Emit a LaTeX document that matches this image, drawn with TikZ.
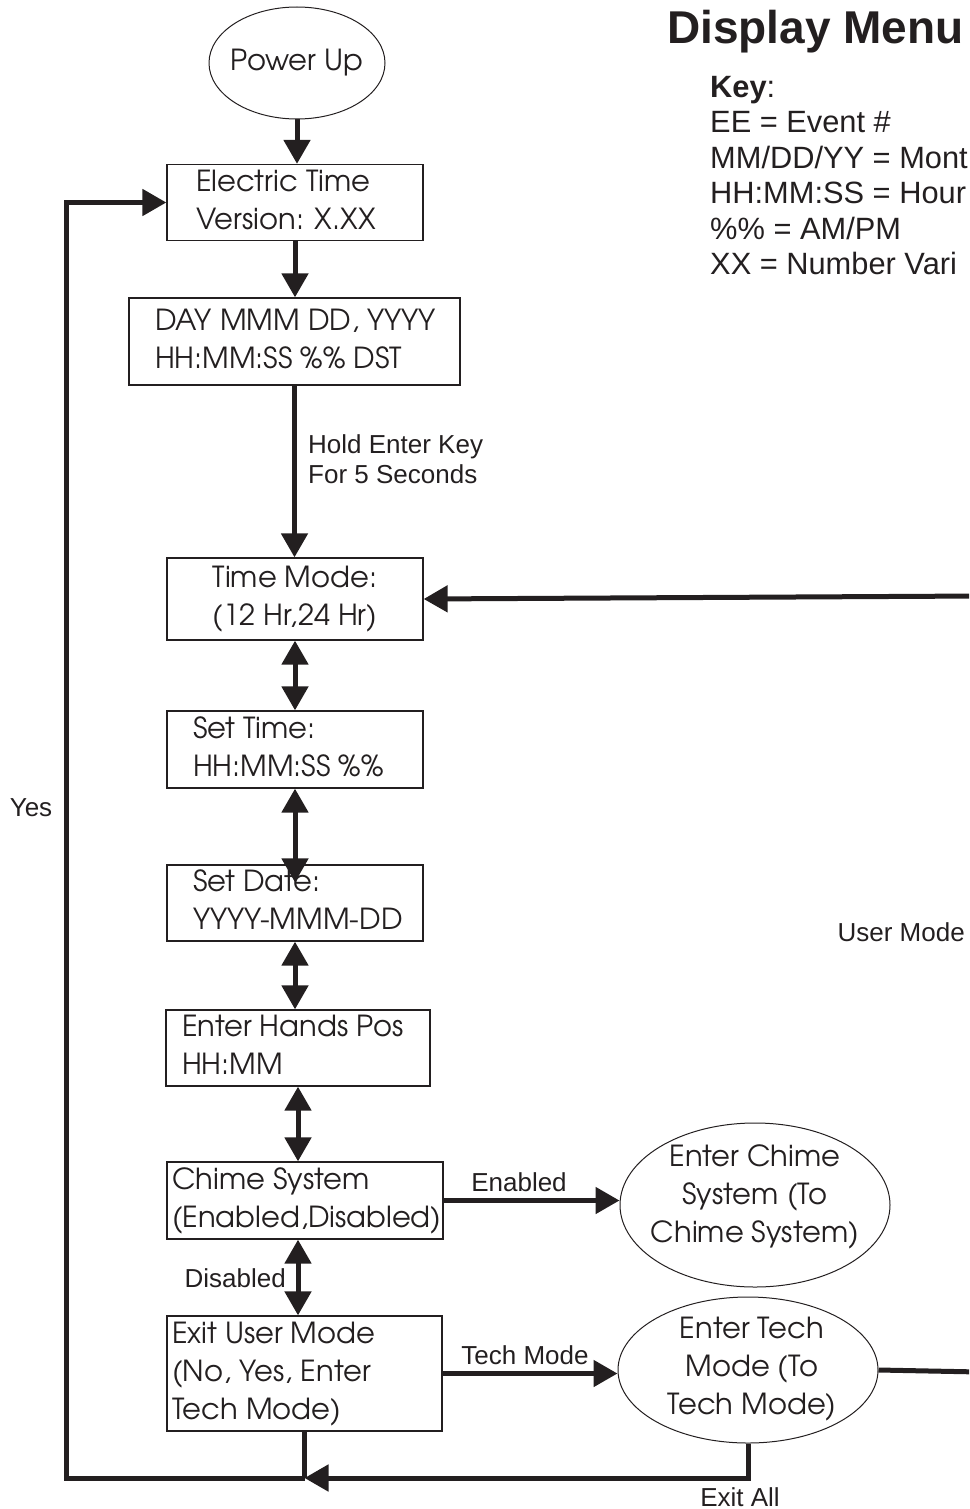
\documentclass[tikz,border=0pt]{standalone}
\usepackage{fontspec}
\setmainfont{Liberation Sans}
\newfontfamily\avant{texgyreadventor}[Extension=.otf,UprightFont=*-regular,BoldFont=*-bold]
\usetikzlibrary{arrows.meta,shapes.geometric,calc}
\definecolor{ink}{HTML}{231F20}
\newcommand\bxl[3]{\makebox[#1pt][l]{\hspace*{#2pt}\begin{tabular}{@{}l@{}}#3\end{tabular}}}
\newcommand\bxc[2]{\makebox[#1pt][c]{\begin{tabular}{@{}c@{}}#2\end{tabular}}}
\tikzset{
  box/.style={draw=ink, line width=1.3pt, rectangle, inner sep=0pt, text=ink,
              font=\avant\fontsize{29}{38}\selectfont},
  oval/.style={draw=ink, line width=1pt, ellipse, inner sep=0pt},
  ovaltext/.style={align=center, text=ink, inner sep=0pt, font=\avant\fontsize{29}{38}\selectfont},
  lbl/.style={text=ink, inner sep=0pt, font=\fontsize{26}{30}\selectfont},
  conn/.style={line width=5pt, draw=ink},
  arr/.style={conn, -{Triangle[length=24pt,width=26pt]}},
  dbl/.style={conn, {Triangle[length=24pt,width=26pt]}-{Triangle[length=24pt,width=26pt]}},
}
\begin{document}
\begin{tikzpicture}[x=1pt,y=-1pt]
\useasboundingbox (0,0) rectangle (969,1509);
\clip (0,0) rectangle (969,1509);

% title and key
\node[anchor=west, inner sep=0pt, text=ink, font=\bfseries\fontsize{46}{50}\selectfont] (title) at (667,32) {Display Menu};
\node[anchor=north west, align=left, inner sep=0pt, text=ink, font=\fontsize{30.8}{35.5}\selectfont] (key) at (710,76)
  {\textbf{Key}:\\EE = Event \#\\MM/DD/YY = Mont\\HH:MM:SS = Hour\\\%\% = AM/PM\\XX = Number Vari};

% main column
\node[oval, minimum width=176pt, minimum height=112pt] (pu) at (297,63) {};
\node[ovaltext] (putxt) at (pu.center) {Power Up};

\node[box, minimum height=75pt] (et) at (295,202.5) {\bxl{256}{29}{Electric Time\\Version: X.XX}};
\node[box, minimum height=87pt] (day) at (294.5,341.5) {\bxl{331}{26}{DAY MMM DD, YYYY\\HH:MM:SS \%\% DST}};
\node[box, minimum height=82pt] (tm) at (295,599) {\bxc{256}{Time Mode:\\(12 Hr,24 Hr)}};
\node[box, minimum height=77pt] (st) at (295,749.5) {\bxl{256}{26}{Set Time:\\HH:MM:SS \%\%}};
\node[box, minimum height=74pt] (sd) at (295,903) {\bxl{256}{26}{Set Date:\\YYYY-MMM-DD}};
\node[box, minimum height=74pt] (eh) at (298,1048) {\bxl{264}{16}{Enter Hands Pos\\HH:MM}};
\node[box, minimum height=77pt] (ch) at (305,1200.5) {\bxl{276}{5}{Chime System\\(Enabled,Disabled)}};
\node[box, minimum height=115pt] (ex) at (304.5,1373.5) {\bxl{275}{5}{Exit User Mode\\(No, Yes, Enter\\Tech Mode)}};

% ovals on the right
\node[oval, minimum width=270pt, minimum height=164pt] (chime) at (755,1205) {};
\node[ovaltext] (chimetxt) at (755,1197) {Enter Chime\\System (To\\Chime System)};
\node[oval, minimum width=260pt, minimum height=146pt] (tech) at (748,1370) {};
\node[ovaltext] (techtxt) at (752,1369) {Enter Tech\\Mode (To\\Tech Mode)};

% labels
\node[lbl, anchor=north west, align=left] (hold) at (308,434) {Hold Enter Key\\For 5 Seconds};
\node[lbl] (yes) at (31,808) {Yes};
\node[lbl, anchor=east] (umode) at (965,932) {User Mode};
\node[lbl] (enl) at (519,1182) {Enabled};
\node[lbl, anchor=east] (dis) at (286,1278) {Disabled};
\node[lbl] (tml) at (525,1355) {Tech Mode};
\node[lbl] (exall) at (740,1497) {Exit All};

% connectors
\draw[arr] (pu.south) -- (pu.south |- et.north);
\draw[arr] (et.south) -- (et.south |- day.north);
\draw[arr] (day.south) -- (day.south |- tm.north);
\draw[dbl] (tm.south) -- (st.north);
\draw[dbl, shorten >=-18pt] (st.south) -- (sd.north);
\draw[dbl] (sd.south) -- (sd.south |- eh.north);
\draw[dbl] (eh.south) -- (eh.south |- ch.north);
\draw[dbl] (eh.south |- ch.south) -- (eh.south |- ex.north);
\draw[arr] (ch.east) -- (ch.east -| chime.west);
\draw[arr] (ex.east) -- (ex.east -| tech.west);

\coordinate (rt) at (980,1372);
\draw[conn] (tech.east) -- (rt);
\coordinate (tmr) at (980,596);
\draw[arr] (tmr) -- (tm.east);

\coordinate (j) at (304.5,1478);
\coordinate (lc) at (66,1478);
\draw[arr] (tech.south) |- (j);
\draw[conn] (ex.south) -- (ex.south |- j);
\draw[arr] (j) -- (lc) |- (et.west);
\end{tikzpicture}
\end{document}
